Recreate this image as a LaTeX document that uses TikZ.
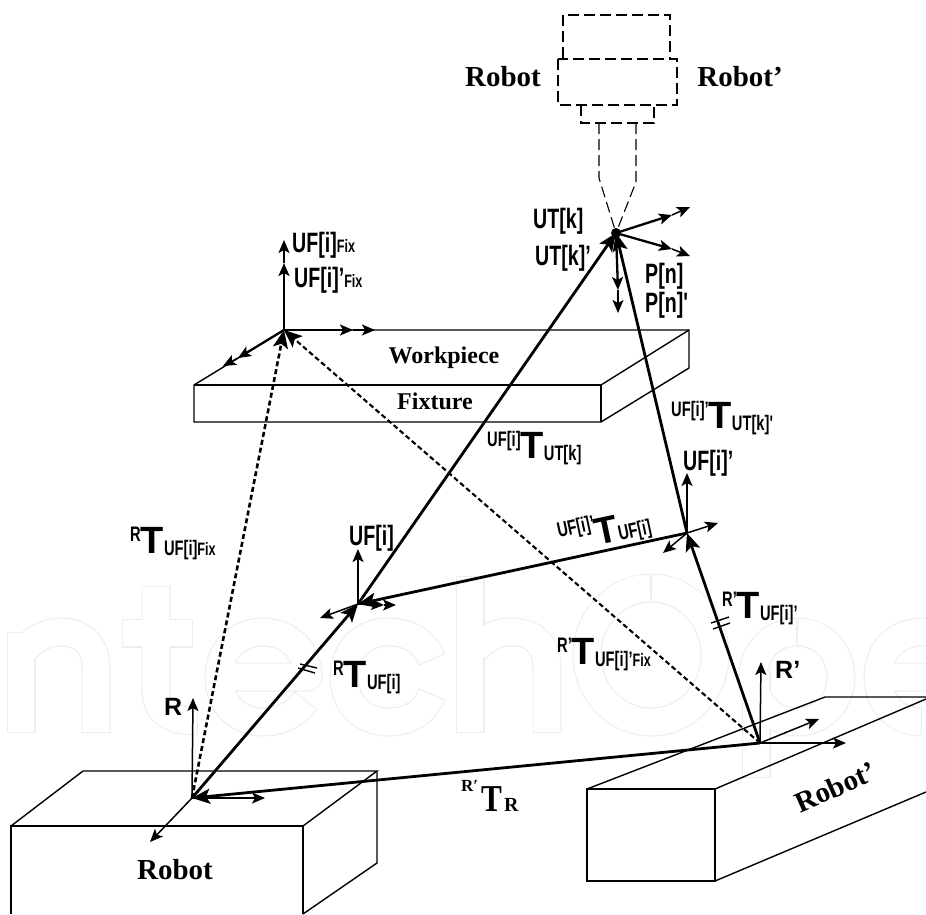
\documentclass[tikz,border=0pt]{standalone}
\usepackage{fontspec}
\setmainfont{Liberation Serif}
\newfontfamily\lblfont[FakeStretch=0.7]{Liberation Sans}
\newfontfamily\widefont{Liberation Sans}
\newfontfamily\serifnarrow[FakeStretch=0.82]{Liberation Serif}
\usepackage{tikz}
\usetikzlibrary{arrows.meta,positioning}
\definecolor{wmgray}{RGB}{238,238,238}
\newcommand{\fsz}[1]{\fontsize{#1}{#1}\selectfont}
\newcommand{\subtxt}[1]{{\lblfont\bfseries\fsz{21}#1}}
\newcommand{\fixtxt}{{\lblfont\bfseries\fsz{18}Fix}}
\newcommand{\Tf}[2]{\raisebox{12pt}{\subtxt{#1}}{\widefont\bfseries\fsz{38}T}\raisebox{-2pt}{\subtxt{#2}}}
% the letters behind the drawing
\newcommand{\wmletters}[1]{
\draw[#1] (21,733)--(21,632);
\draw[#1] (96,733)--(96,668) .. controls (96,642) and (80,632) .. (60,632) .. controls (45,632) and (33,640) .. (24,650);
\draw[#1] (156,586)--(156,690) .. controls (156,712) and (170,721) .. (198,721);
\draw[#1] (122,633)--(193,633);
\draw[#1] (219,677)--(308,677) .. controls (308,650) and (288,632) .. (263,632) .. controls (238,632) and (219,650) .. (219,677) .. controls (219,704) and (238,722) .. (263,722) .. controls (280,722) and (295,715) .. (306,700);
\draw[#1] (432,660) .. controls (425,642) and (410,632) .. (388,632) .. controls (363,632) and (344,650) .. (344,677) .. controls (344,704) and (363,722) .. (388,722) .. controls (410,722) and (425,712) .. (432,694);
\draw[#1] (470,733)--(470,576);
\draw[#1] (547,733)--(547,668) .. controls (547,642) and (531,632) .. (511,632) .. controls (496,632) and (484,640) .. (475,650);
\draw[#1] (651,588) .. controls (686,588) and (715,618) .. (715,655) .. controls (715,692) and (686,722) .. (651,722) .. controls (616,722) and (587,692) .. (587,655) .. controls (587,618) and (616,588) .. (651,588);
\draw[#1] (756,778)--(756,670);
\draw[#1] (797,632) .. controls (822,632) and (841,652) .. (841,677) .. controls (841,702) and (822,722) .. (797,722) .. controls (772,722) and (753,702) .. (753,677) .. controls (753,652) and (772,632) .. (797,632);
\draw[#1] (878,677)--(967,677) .. controls (967,650) and (947,632) .. (922,632) .. controls (897,632) and (878,650) .. (878,677) .. controls (878,704) and (897,722) .. (922,722);
}
\begin{document}
\begin{tikzpicture}[x=1pt,y=-1pt,
  edge/.style={line width=1.4pt},
  tooldash/.style={line width=1.1pt,dash pattern=on 11pt off 5pt},
  axis/.style={line width=1.5pt,-{Stealth[length=13pt,width=11pt,inset=3pt]}},
  axisb/.style={axis,line width=2.3pt},
  trans/.style={line width=2.8pt,-{Stealth[length=18pt,width=15pt,inset=4pt]}},
  dashtrans/.style={line width=2.1pt,dash pattern=on 5pt off 3pt,-{Stealth[length=18pt,width=15pt,inset=4pt]}},
  serif/.style={font=\bfseries\fsz{29},inner sep=0pt},
  lab/.style={font=\lblfont\bfseries\fsz{28},inner sep=0pt,anchor=base west},
  tlab/.style={inner sep=0pt,anchor=base west},
  rotlab/.style={inner sep=0pt,font=\widefont\bfseries\fsz{21},rotate=12,xscale=.7,transform shape},
  wmout/.style={color=wmgray,line width=29pt,line join=round},
  wmin/.style={color=white,line width=26.6pt,line join=round,shorten >=1.2pt,shorten <=1.2pt}]
\useasboundingbox (0,0) rectangle (926,914);
\clip (0,0) rectangle (926,914);
\wmletters{wmout}
\wmletters{wmin}
% frames
\coordinate (R) at (192,798);
\coordinate (Rz) at (193,698);
\coordinate (Rx) at (265,798);
\coordinate (Ry) at (150,842);
\coordinate (Rp) at (760,743);
\coordinate (Rpz) at (761,662);
\coordinate (Rpx) at (846,743);
\coordinate (Rpy) at (819,719);
\coordinate (UF) at (358,604);
\coordinate (UFz) at (358,549);
\coordinate (UFy) at (320,618);
\coordinate (UFa) at (384,605);
\coordinate (UFb) at (396,605);
\coordinate (UFp) at (687,533);
\coordinate (UFpz) at (687,473);
\coordinate (UFpx) at (718,523);
\coordinate (UFpy) at (663,553);
\coordinate (Fix) at (284,330);
\coordinate (Fixa) at (284,263);
\coordinate (Fixb) at (284,240);
\coordinate (Fixc) at (353,330);
\coordinate (Fixd) at (375,330);
\coordinate (Fixe) at (238,358);
\coordinate (Fixf) at (223,366);
\coordinate (UT) at (616,233);
\coordinate (UTa) at (672,215);
\coordinate (UTb) at (690,207);
\coordinate (UTc) at (672,249);
\coordinate (UTd) at (690,256);
\coordinate (UTe) at (618,290);
\coordinate (UTf) at (618,313);
% tool
\draw[tooldash] (563,58)--(563,15)--(670,15)--(670,58);
\draw[tooldash] (558,59) rectangle (677,105);
\draw[tooldash] (581,105)--(581,123)--(654,123)--(654,105);
\draw[tooldash] (599,123)--(599,178)--(UT);
\draw[tooldash] (636,123)--(636,182)--(UT);
% fixture and workpiece
\draw[edge] (Fix)--(689,330)--(689,368)--(601,422)--(194,422)--(194,385)--cycle;
\draw[edge] (194,385)--(601,385)--(601,422);
\draw[edge] (601,385)--(689,330);
% robot
\draw[edge] (11,914)--(11,826)--(303,826)--(303,914);
\draw[edge] (11,826)--(83,771)--(377,771)--(303,826);
\draw[edge] (377,771)--(377,863)--(303,914);
% robot'
\draw[edge] (587,789) rectangle (715,881);
\draw[edge] (587,789)--(825,697)--(926,697);
\draw[edge] (715,789)--(926,699);
\draw[edge] (715,881)--(926,792);
% axes
\draw[axis] (R)--(Rz);
\draw[axis] (R)--(Rx);
\draw[axis] (R)--(Ry);
\draw[axis] (Rp)--(Rpz);
\draw[axis] (Rp)--(Rpx);
\draw[axis] (Rp)--(Rpy);
\draw[axis] (UF)--(UFz);
\draw[axis] (UF)--(UFy);
\draw[axis] (UF)--(UFa);
\draw[axis] (UFa)--(UFb);
\draw[axis] (UFp)--(UFpz);
\draw[axis] (UFp)--(UFpx);
\draw[axis] (UFp)--(UFpy);
\draw[axisb] (Fix)--(Fixa);
\draw[axis] (Fixa)--(Fixb);
\draw[axisb] (Fix)--(Fixc);
\draw[axis] (Fixc)--(Fixd);
\draw[axisb] (Fix)--(Fixe);
\draw[axis] (Fixe)--(Fixf);
\draw[axisb] (UT)--(UTa);
\draw[axis] (UTa)--(UTb);
\draw[axisb] (UT)--(UTc);
\draw[axis] (UTc)--(UTd);
\draw[axisb] (UT)--(UTe);
\draw[axis] (UTe)--(UTf);
\fill (UT) circle (5);
% transforms
\draw[trans] (R)--(UF);
\draw[trans] (UF)--(UT);
\draw[trans] (Rp)--(UFp);
\draw[trans] (UFp)--(UT);
\draw[trans] (UFp)--(UF);
\draw[trans] (Rp)--(R);
\draw[dashtrans,line width=2.6pt] (R)--(Fix);
\draw[dashtrans] (Rp)--(Fix);
% ticks
\draw[edge] (298,668)--(315,673);
\draw[edge] (300,664)--(317,668);
\draw[edge] (713,629)--(730,623);
\draw[edge] (711,623)--(729,617);
% serif labels
\node[serif] (robottool) at (503,77) {Robot};
\node[serif] (robotptool) at (740,77) {Robot’};
\node[serif,font=\bfseries\fsz{24}] (workpiece) at (444,358) {Workpiece};
\node[serif,font=\bfseries\fsz{24}] (fixture) at (435,401) {Fixture};
\node[serif] (robotbase) at (175,870) {Robot};
\node[serif,rotate=24] (robotpbase) at (835,787) {Robot’};
% frame labels
\node[lab] (lfixa) at (292,252) {UF[i]\fixtxt};
\node[lab] (lfixb) at (294,287) {UF[i]’\fixtxt};
\node[lab] (lut) at (533,228) {UT[k]};
\node[lab] (lutp) at (535,265) {UT[k]’};
\node[lab] (lp) at (645,283) {P[n]};
\node[lab] (lpp) at (645,312) {P[n]'};
\node[lab] (luf) at (349,545) {UF[i]};
\node[lab] (lufp) at (683,470) {UF[i]’};
\node[lab,font=\widefont\bfseries\fsz{25}] (lr) at (164,715) {R};
\node[lab,font=\widefont\bfseries\fsz{25}] (lrp) at (775,678) {R’};
% transform labels
\node[tlab] (t1) at (487,458) {\Tf{UF[i]}{UT[k]}};
\node[tlab] (t2) at (671,428) {\Tf{UF[i]’}{UT[k]'}};
\node[tlab] (t3) at (130,553) {\Tf{R}{UF[i]\fixtxt}};
\begin{scope}[shift={(576,528)}]
\node[rotlab] (t4a) at (0,0) {UF[i]’};
\end{scope}
\node[inner sep=0pt,rotate=12,font=\widefont\bfseries\fsz{38}] (t4b) at (606,530) {T};
\begin{scope}[shift={(635,532)}]
\node[rotlab] (t4c) at (0,0) {UF[i]};
\end{scope}
\node[tlab] (t5) at (333,687) {\Tf{R}{UF[i]}};
\node[tlab] (t6) at (557,664) {\Tf{R’}{UF[i]’\fixtxt}};
\node[tlab] (t7) at (722,618) {\Tf{R’}{UF[i]’}};
\node[tlab] (t8) at (461,811) {\raisebox{20pt}{\bfseries\fsz{17}R′}\hspace{3pt}{\serifnarrow\bfseries\fsz{38}T}\hspace{2pt}{\bfseries\fsz{20}R}};
\end{tikzpicture}
\end{document}
